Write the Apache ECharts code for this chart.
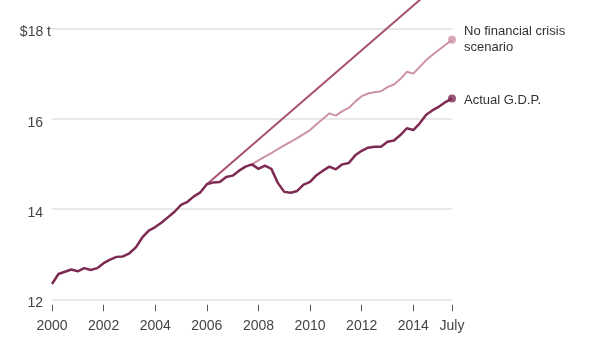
<!DOCTYPE html>
<html>
<head>
<meta charset="utf-8">
<script src="https://cdn.jsdelivr.net/npm/echarts@6/dist/echarts.min.js"></script>
<style>
  html, body { margin: 0; padding: 0; background: #fff; }
  #chart { width: 616px; height: 346px; }
</style>
</head>
<body>
<div id="chart"></div>
<script>
// Real G.D.P., trillions of dollars, quarterly from 2000 Q1 through 2015 Q3
const firstYear = 2000;
const actualGdp = [
  12.34, 12.56, 12.61, 12.66,
  12.62, 12.69, 12.65, 12.69,
  12.80, 12.88, 12.94, 12.95,
  13.02, 13.15, 13.37, 13.52,
  13.60, 13.70, 13.82, 13.94,
  14.09, 14.16, 14.28, 14.37,
  14.55, 14.59, 14.60, 14.71,
  14.74, 14.85, 14.94, 14.99,
  14.89, 14.96, 14.89, 14.58,
  14.38, 14.36, 14.40, 14.54,
  14.60, 14.75, 14.85, 14.94,
  14.88, 14.99, 15.02, 15.19,
  15.29, 15.36, 15.38, 15.38,
  15.49, 15.52, 15.64, 15.79,
  15.75, 15.90, 16.09, 16.19,
  16.27, 16.37, 16.45
];

// Path without the financial crisis, quarterly from 2007 Q4 through 2015 Q3
const scenarioStart = 2007.75;
const noCrisisScenario = [
  14.99,
  15.08, 15.16, 15.24, 15.33,
  15.41, 15.49, 15.57, 15.66,
  15.75, 15.88, 16.00, 16.12,
  16.07, 16.17, 16.24, 16.38,
  16.50, 16.56, 16.59, 16.61,
  16.70, 16.76, 16.88, 17.04,
  17.00, 17.15, 17.30, 17.42,
  17.53, 17.64, 17.75
];

// Pre-2006 growth trend, a straight line
const trendYears = [2006, 2015.5];
const trendValues = [14.55, 19.25];

// Axis ticks
const xTickValues = [2000, 2002, 2004, 2006, 2008, 2010, 2012, 2014, 2015.5];
const xTickLabels = ['2000', '2002', '2004', '2006', '2008', '2010', '2012', '2014', 'July'];

const actualColor = '#7d2b52';
const scenarioColor = '#cc91aa';
const trendColor = '#a8506f';

const toPoints = (start, values) => values.map((v, i) => [start + i * 0.25, v]);
const actualPoints = toPoints(firstYear, actualGdp);
const scenarioPoints = toPoints(scenarioStart, noCrisisScenario);
const trendPoints = trendYears.map((y, i) => [y, trendValues[i]]);

const fontFamily = '"Liberation Sans", Arial, sans-serif';

const chart = echarts.init(document.getElementById('chart'), null, { renderer: 'canvas' });
chart.setOption({
  animation: false,
  backgroundColor: '#fff',
  grid: { left: 52, right: 164, top: 28.5, bottom: 46.7 },
  xAxis: {
    type: 'value',
    min: 2000,
    max: 2015.5,
    offset: 5.5,
    axisLine: { show: false },
    splitLine: { show: false },
    axisTick: {
      show: true,
      length: 6.5,
      customValues: xTickValues,
      lineStyle: { color: '#555', width: 1 }
    },
    axisLabel: {
      customValues: xTickValues,
      margin: 14,
      fontSize: 14,
      color: '#444',
      fontFamily,
      formatter: v => xTickLabels[xTickValues.indexOf(v)]
    }
  },
  yAxis: {
    type: 'value',
    min: 12,
    max: 18,
    interval: 2,
    axisLine: { show: false },
    axisTick: { show: false },
    splitLine: { show: true, lineStyle: { color: '#e8e8e8', width: 2 } },
    axisLabel: {
      margin: 1,
      fontSize: 14,
      color: '#444',
      fontFamily,
      padding: [8, 0, 0, 0],
      formatter: v => v === 18 ? '{n|$18}{s| t}' : '{n|' + v + '}{p| }',
      rich: {
        n: { fontSize: 14, color: '#444', fontFamily },
        s: { fontSize: 14, color: '#444', fontFamily },
        p: { fontSize: 14, width: 8, fontFamily }
      }
    }
  },
  series: [
    {
      name: 'Trend',
      type: 'line',
      data: trendPoints,
      showSymbol: false,
      clip: false,
      silent: true,
      lineStyle: { color: trendColor, width: 2 },
      z: 2
    },
    {
      name: 'No financial crisis scenario',
      type: 'line',
      data: scenarioPoints,
      showSymbol: false,
      clip: false,
      lineStyle: { color: scenarioColor, width: 2 },
      endLabel: {
        show: true,
        distance: 12,
        formatter: 'No financial crisis\nscenario',
        fontSize: 13,
        lineHeight: 16,
        color: '#333',
        fontFamily
      },
      z: 3
    },
    {
      name: 'Actual G.D.P.',
      type: 'line',
      data: actualPoints,
      showSymbol: false,
      clip: false,
      lineStyle: { color: actualColor, width: 2.5 },
      endLabel: {
        show: true,
        distance: 12,
        formatter: 'Actual G.D.P.',
        fontSize: 13,
        color: '#333',
        fontFamily,
        offset: [0, 2]
      },
      z: 4
    },
    {
      type: 'scatter',
      data: [
        { value: scenarioPoints[scenarioPoints.length - 1], itemStyle: { color: scenarioColor } },
        { value: actualPoints[actualPoints.length - 1], itemStyle: { color: actualColor } }
      ],
      symbolSize: 8,
      silent: true,
      z: 5
    }
  ]
});
</script>
</body>
</html>
